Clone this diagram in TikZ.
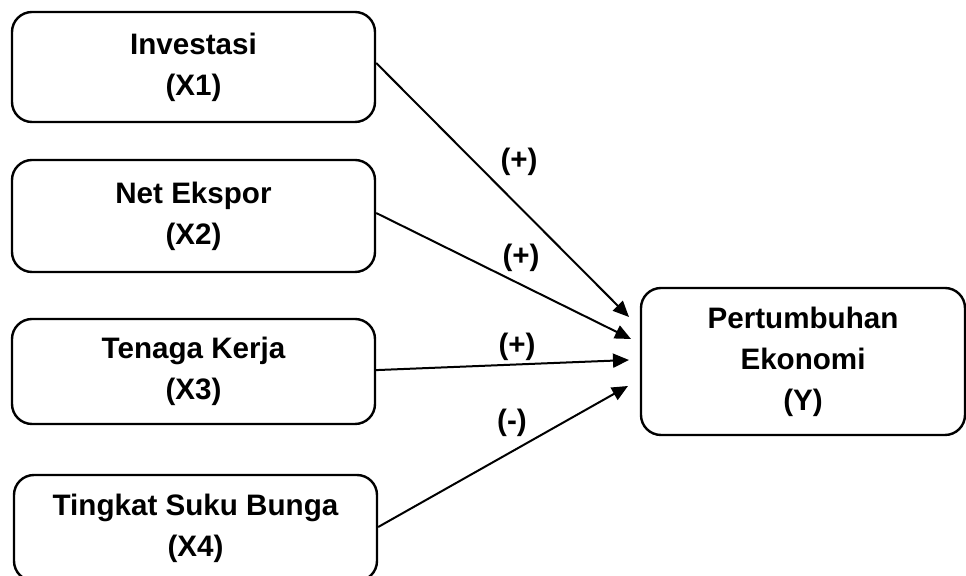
\documentclass[tikz,border=0pt]{standalone}
\usepackage{fontspec}
\setmainfont{Liberation Sans}
\usetikzlibrary{arrows.meta}
\begin{document}
\begin{tikzpicture}[x=0.5pt,y=-0.5pt,
  varbox/.style={draw=black,line width=1.2pt,rounded corners=10pt,align=center,
    font=\fontsize{14.8}{20.5}\selectfont\bfseries,inner sep=0pt,minimum width=181.5pt},
  link/.style={draw=black,line width=1pt,-{Triangle[length=8pt,width=7pt]}},
  sign/.style={font=\fontsize{14.8}{17}\selectfont\bfseries,inner sep=0pt}]
\useasboundingbox (0,0) rectangle (966,576);
\node [varbox,minimum height=55pt] (x1) at (193.5,67) {Investasi\\(X1)};
\node [varbox,minimum height=56pt] (x2) at (193.5,216) {Net Ekspor\\(X2)};
\node [varbox,minimum height=52.5pt] (x3) at (193.5,371.5) {Tenaga Kerja\\(X3)};
\node [varbox,minimum height=53pt] (x4) at (195.5,528) {Tingkat Suku Bunga\\(X4)};
\node [varbox,minimum width=162pt,minimum height=73.5pt] (y) at (803,361.5) {Pertumbuhan\\Ekonomi\\(Y)};
\coordinate (t1) at (629,317);
\coordinate (t2) at (631,339);
\coordinate (t3) at (629,360);
\coordinate (t4) at (628,386);
\draw [link] ([yshift=2pt]x1.east) -- (t1);
\draw [link] ([yshift=1.5pt]x2.east) -- (t2);
\draw [link] ([yshift=0.7pt]x3.east) -- (t3);
\draw [link] ([yshift=0.5pt]x4.east) -- (t4);
\node [sign] (s1) at (519,162) {(+)};
\node [sign] (s2) at (521,258) {(+)};
\node [sign] (s3) at (517,347) {(+)};
\node [sign] (s4) at (512,423) {(-)};
\end{tikzpicture}
\end{document}
